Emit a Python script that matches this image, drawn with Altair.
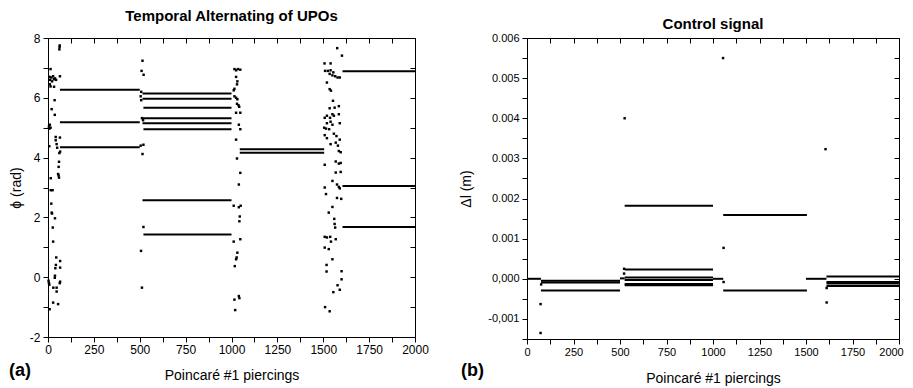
import altair as alt
import pandas as pd

# ---------------- Panel (a): Temporal Alternating of UPOs ----------------
A_SEG_START = [65, 65, 65, 515, 515, 520, 515, 515, 520, 515, 520, 1045, 1045, 1605, 1605, 1605]
A_SEG_END = [500, 500, 500, 1000, 1000, 1000, 1000, 1000, 1000, 1000, 1000, 1505, 1505, 2000, 2000, 2000]
A_SEG_LEVEL = [6.27, 5.18, 4.35, 6.14, 5.97, 5.67, 5.32, 5.15, 4.95, 2.57, 1.43, 4.28, 4.16, 6.89, 3.05, 1.68]

# transient 1 (0-70)
A_T1_X = [14, 8, 12, 18, 22, 28, 32, 38, 44, 65, 10, 14, 33, 36, 20, 37, 5, 10, 14, 8, 65, 42, 42, 7, 47, 50,
          66, 62, 60, 58, 55, 58, 60, 15, 15, 25, 18, 20, 22, 26, 38, 28, 45, 43, 40, 66, 66, 66, 64, 38, 37, 3,
          5, 7, 29, 47, 47, 28, 55, 9, 63, 64, 62]
A_T1_Y = [6.96, 6.7, 6.6, 6.68, 6.55, 6.72, 6.62, 6.65, 6.6, 6.72, 6.45, 6.38, 6.37, 5.92, 5.62, 5.43, 5.03, 5.1,
          5.0, 4.97, 4.67, 4.69, 4.58, 4.38, 4.45, 4.33, 4.2, 4.15, 3.86, 3.69, 3.45, 3.4, 3.33, 3.31, 2.91, 2.91,
          2.46, 2.16, 2.13, 1.66, 1.97, 1.19, 0.66, 0.41, 0.3, 0.54, 0.32, -0.15, -0.2, 0.05, -0.02, -0.12,
          -0.2, -0.25, -0.35, -0.35, -0.48, -0.85, -0.9, -1.07, 7.7, 7.75, 7.62]
# transient 2 (500-525)
A_T2_X = [515, 510, 521, 508, 505, 508, 512, 518, 520, 515, 520, 507, 512, 505]
A_T2_Y = [7.24, 6.9, 6.77, 6.2, 6.05, 5.92, 5.32, 5.25, 4.43, 4.12, 1.68, 0.88, -0.35, 4.4]
# transient 3 (1000-1050)
A_T3_X = [1016, 1025, 1035, 1048, 1025, 1032, 1030, 1016, 1012, 1016, 1025, 1032, 1030, 1038, 1042, 1025, 1048,
          1040, 1048, 1025, 1030, 1048, 1040, 1012, 1040, 1050, 1045, 1043, 1048, 1012, 1032, 1028, 1025, 1018,
          1040, 1043, 1016, 1020]
A_T3_Y = [6.96, 6.92, 6.96, 6.94, 6.7, 6.55, 6.45, 6.3, 6.25, 6.05, 6.0, 5.95, 5.8, 5.75, 5.7, 5.5, 5.5, 5.1,
          4.95, 4.6, 3.97, 3.49, 3.1, 2.39, 2.34, 2.39, 2.03, 1.87, 1.27, 1.19, 0.82, 0.66, 0.6, 0.37, -0.63,
          -0.7, -0.75, -1.1]
# transient 4 (1500-1605)
A_T4_X = [1576, 1602, 1507, 1540, 1510, 1525, 1540, 1555, 1565, 1578, 1590, 1550, 1535, 1520, 1535, 1542, 1553,
          1562, 1535, 1585, 1508, 1520, 1537, 1550, 1558, 1585, 1520, 1540, 1550, 1590, 1505, 1515, 1532, 1508,
          1520, 1558, 1572, 1590, 1540, 1568, 1580, 1585, 1595, 1508, 1568, 1585, 1595, 1568, 1595, 1550, 1575,
          1585, 1590, 1508, 1515, 1575, 1598, 1530, 1550, 1560, 1562, 1565, 1568, 1508, 1520, 1538, 1542, 1508,
          1530, 1518, 1518, 1550, 1600, 1600, 1578, 1590, 1555, 1510, 1535]
A_T4_Y = [7.66, 7.41, 7.15, 7.15, 6.9, 6.9, 6.92, 6.85, 6.72, 6.68, 6.68, 6.75, 6.8, 6.51, 6.29, 6.24, 5.9,
          5.67, 5.65, 5.72, 5.33, 5.4, 5.33, 5.45, 5.4, 5.45, 5.15, 5.2, 5.1, 5.15, 5.0, 4.97, 4.95, 4.75, 4.65,
          4.8, 4.72, 4.6, 4.45, 4.5, 4.4, 4.22, 4.18, 3.76, 3.87, 3.8, 3.82, 3.5, 3.52, 3.22, 3.1, 3.02, 2.97,
          3.0, 2.78, 2.65, 2.62, 2.16, 2.35, 1.95, 1.78, 1.66, 1.27, 1.35, 1.33, 1.35, 1.19, 0.99, 0.94, 0.41,
          0.19, 0.6, 0.2, -0.07, -0.27, -0.42, -0.5, -1.0, -1.14]

# ---------------- Panel (b): Control signal ----------------
B_SEG_START = [0, 75, 75, 75, 500, 525, 525, 525, 525, 525, 525, 1000, 1055, 1055, 1500, 1610, 1610, 1610, 1610]
B_SEG_END = [75, 500, 500, 500, 525, 1000, 1000, 1000, 1000, 1000, 1000, 1055, 1505, 1505, 1610, 2000, 2000, 2000, 2000]
B_SEG_LEVEL = [0.0, -0.00005, -0.00009, -0.00029, 0.00001, 0.00182, 0.00023, 0.00003, -0.00003, -0.00013,
               -0.00016, 0.0, 0.00159, -0.00029, 0.0, 0.00006, -0.00008, -0.00012, -0.00018]
B_PTS_X = [73, 73, 76, 522, 525, 522, 1054, 1057, 1057, 1605, 1611, 1611]
B_PTS_Y = [-0.00063, -0.00135, -0.00014, 0.00013, 0.004, 0.00025, 0.0055, 0.00077, -0.00008, 0.00323,
           -0.00023, -0.00059]

X_TICKS = list(range(0, 2001, 125))
A_Y_TICKS = list(range(-2, 9))
B_Y_TICKS = [i / 2000 for i in range(-3, 13)]

FONT = "Liberation Sans"
X_LABEL_EXPR = "datum.value % 250 == 0 ? '' + datum.value : ''"
A_Y_LABEL_EXPR = "datum.value % 2 == 0 ? '' + datum.value : ''"
B_Y_LABEL_EXPR = ("abs(datum.value*1000 - round(datum.value*1000)) < 0.01 ? "
                  "(datum.value > 0.0005 ? format(datum.value, '.3f') : "
                  "replace(replace(format(datum.value, '.3f'), '.', ','), '\u2212', '-')) : ''")


def panel(seg_df, pts_df, y_dom, y_ticks, y_label_expr, y_title, width, height, title, title_offset,
          label_size, x_title_pad, y_title_pad, tag, tag_dx, tag_dy, last_label_shift=0):
    xs = alt.Scale(domain=[0, 2000], nice=False, zero=False)
    ys = alt.Scale(domain=y_dom, nice=False, zero=False)
    x_kwargs = dict(orient="bottom", values=X_TICKS, labelExpr=X_LABEL_EXPR, tickSize=5, labelPadding=2,
                    labelFontSize=label_size, title="Poincaré #1 piercings", titleFontSize=14,
                    titleFontWeight="normal", titlePadding=x_title_pad, labelOverlap=False,
                    labelFlush=False)
    if last_label_shift:
        x_kwargs["labelOffset"] = {"condition": {"test": "datum.value == 2000", "value": last_label_shift},
                                   "value": 0}
    x_bottom = alt.Axis(**x_kwargs)
    y_left = alt.Axis(orient="left", values=y_ticks, labelExpr=y_label_expr, tickSize=5, labelPadding=3,
                      labelFontSize=label_size, title=y_title, titleFontSize=14, titleFontWeight="normal",
                      titlePadding=y_title_pad, labelOverlap=False, labelFlush=False)
    x_top = alt.Axis(orient="top", values=X_TICKS, labels=False, tickSize=5, offset=-5, title=None)
    y_right = alt.Axis(orient="right", values=y_ticks, labels=False, tickSize=5, offset=-5, title=None)

    rules = alt.Chart(seg_df).mark_rule(color="black", strokeWidth=2).encode(
        x=alt.X("x0:Q", scale=xs, axis=x_bottom),
        x2="x1:Q",
        y=alt.Y("y:Q", scale=ys, axis=y_left),
    )
    points = alt.Chart(pts_df).mark_square(color="black", size=6, opacity=1).encode(
        x=alt.X("x:Q", scale=xs, axis=x_top),
        y=alt.Y("y:Q", scale=ys, axis=y_right),
    )
    label = alt.Chart(pd.DataFrame({"t": [tag]})).mark_text(
        align="left", baseline="middle", fontSize=18, fontWeight="bold", font=FONT, color="black"
    ).encode(x=alt.value(tag_dx), y=alt.value(tag_dy), text="t:N")

    return alt.layer(rules, points, label).resolve_axis(x="independent", y="independent").properties(
        width=width, height=height,
        title=alt.TitleParams(title, fontSize=15, fontWeight="bold", font=FONT, color="black",
                              anchor="middle", offset=title_offset),
    )


a_seg = pd.DataFrame({"x0": A_SEG_START, "x1": A_SEG_END, "y": A_SEG_LEVEL})
a_pts = pd.DataFrame({"x": A_T1_X + A_T2_X + A_T3_X + A_T4_X, "y": A_T1_Y + A_T2_Y + A_T3_Y + A_T4_Y})
b_seg = pd.DataFrame({"x0": B_SEG_START, "x1": B_SEG_END, "y": B_SEG_LEVEL})
b_pts = pd.DataFrame({"x": B_PTS_X, "y": B_PTS_Y})

left = panel(a_seg, a_pts, [-2, 8], A_Y_TICKS, A_Y_LABEL_EXPR, "\u03d5 (rad)", 367, 299,
             "Temporal Alternating of UPOs", 8, 12, 13, 6, "(a)", -39, 299 + 34)
right = panel(b_seg, b_pts, [-0.0015, 0.006], B_Y_TICKS, B_Y_LABEL_EXPR, "\u0394l (m)", 372, 301,
              "Control signal", 0, 11, 14, 14, "(b)", -66, 301 + 32, last_label_shift=-8)

chart = alt.hconcat(left, right, spacing=112).properties(
    bounds="flush", padding=0
).configure_view(
    stroke="black", strokeWidth=1
).configure_axis(
    domain=False, grid=False, tickColor="black", tickWidth=1, labelColor="black", titleColor="black",
    labelFont=FONT, titleFont=FONT
)

chart.save("out.html", embed_options={"renderer": "svg", "actions": False})
